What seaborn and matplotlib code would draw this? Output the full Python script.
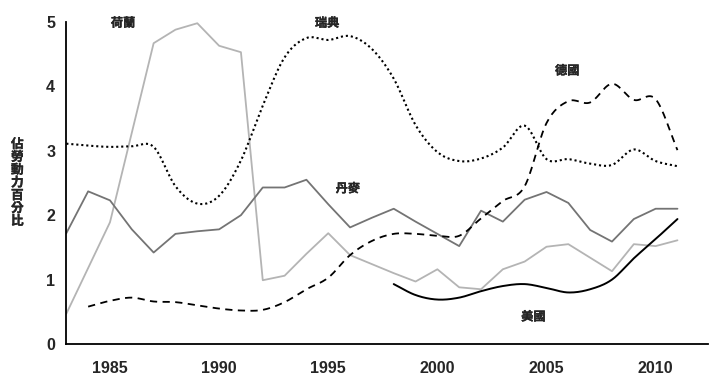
import numpy as np
import pandas as pd
import matplotlib
matplotlib.use("Agg")
import matplotlib.pyplot as plt
import matplotlib.patheffects as pe
import seaborn as sns

years = list(range(1983, 2012))
netherlands = [0.47, 1.18, 1.89, 3.28, 4.67, 4.88, 4.98, 4.63, 4.53, 0.99, 1.06, 1.4, 1.72, 1.38,
               1.24, 1.1, 0.97, 1.16, 0.88, 0.85, 1.16, 1.28, 1.51, 1.55, 1.34, 1.13, 1.55, 1.52, 1.61]
denmark = [1.72, 2.37, 2.23, 1.78, 1.42, 1.71, 1.75, 1.78, 2.0, 2.43, 2.43, 2.55, 2.17, 1.81,
           1.96, 2.1, 1.9, 1.71, 1.52, 2.07, 1.9, 2.24, 2.36, 2.19, 1.77, 1.59, 1.94, 2.1, 2.1]
sweden = [3.11, 3.08, 3.06, 3.07, 3.06, 2.45, 2.18, 2.3, 2.85, 3.7, 4.45, 4.75, 4.72, 4.78,
          4.58, 4.12, 3.4, 2.98, 2.84, 2.88, 3.05, 3.39, 2.87, 2.87, 2.8, 2.78, 3.02, 2.84, 2.76]
germany_years = list(range(1984, 2012))
germany = [0.58, 0.67, 0.72, 0.66, 0.65, 0.6, 0.55, 0.52, 0.53, 0.65, 0.85, 1.03, 1.38, 1.6,
           1.71, 1.71, 1.68, 1.68, 1.95, 2.22, 2.45, 3.43, 3.77, 3.75, 4.04, 3.79, 3.8, 3.01]
us_years = list(range(1998, 2012))
us = [0.93, 0.76, 0.69, 0.72, 0.82, 0.9, 0.93, 0.87, 0.8, 0.85, 1.0, 1.33, 1.63, 1.94]

labels = ["荷蘭", "瑞典", "德國", "丹麥", "美國"]
label_x = [1985.6, 1994.95, 2005.95, 1995.9, 2004.4]
label_y = [4.98, 4.98, 4.24, 2.41, 0.42]


def curve(x, y, n=16):
    # catmull-rom rendering of the line through the yearly points
    x = np.asarray(x, float)
    y = np.asarray(y, float)
    px = np.r_[2 * x[0] - x[1], x, 2 * x[-1] - x[-2]]
    py = np.r_[2 * y[0] - y[1], y, 2 * y[-1] - y[-2]]
    t = np.linspace(0, 1, n, endpoint=False)
    xs, ys = [], []
    for i in range(1, len(px) - 2):
        for p, out in ((px, xs), (py, ys)):
            p0, p1, p2, p3 = p[i - 1], p[i], p[i + 1], p[i + 2]
            out.extend(0.5 * (2 * p1 + (-p0 + p2) * t + (2 * p0 - 5 * p1 + 4 * p2 - p3) * t ** 2
                              + (-p0 + 3 * p1 - 3 * p2 + p3) * t ** 3))
    xs.append(x[-1])
    ys.append(y[-1])
    return xs, ys


sns.set_style("white")
plt.rcParams["font.family"] = ["Liberation Sans", "Noto Sans CJK TC"]
cjk = ["Noto Sans CJK TC", "DejaVu Sans"]
bold = [pe.withStroke(linewidth=0.2, foreground="black")]

fig, ax = plt.subplots(figsize=(7.21, 3.85), dpi=100)
fig.subplots_adjust(left=0.092, right=0.982, bottom=0.1065, top=0.943)

sns.lineplot(x=years, y=netherlands, ax=ax, color="#b4b4b4", lw=1.3, sort=False, estimator=None)
sns.lineplot(x=years, y=denmark, ax=ax, color="#747474", lw=1.3, sort=False, estimator=None)
sx, sy = curve(years, sweden)
sns.lineplot(x=sx, y=sy, ax=ax, color="black", lw=1.5, linestyle=(0, (1, 1.4)), sort=False, estimator=None)
gx, gy = curve(germany_years, germany)
sns.lineplot(x=gx, y=gy, ax=ax, color="black", lw=1.3, linestyle=(0, (4, 3)), sort=False, estimator=None)
ux, uy = curve(us_years, us)
sns.lineplot(x=ux, y=uy, ax=ax, color="black", lw=1.4, sort=False, estimator=None)

for t, x, y in zip(labels, label_x, label_y):
    ax.text(x, y, t, ha="center", va="center", fontsize=8.8, fontweight="bold",
            family=cjk, path_effects=bold)

ax.set_xlim(1983, 2012.4)
ax.set_ylim(0, 5)
ax.set_xticks([1985, 1990, 1995, 2000, 2005, 2010])
ax.set_yticks([0, 1, 2, 3, 4, 5])
ax.tick_params(axis="both", direction="out", width=1.3, length=6, labelsize=11.5, color="black")
ax.tick_params(axis="x", pad=6)
ax.tick_params(axis="y", pad=2)
for lab in ax.get_xticklabels() + ax.get_yticklabels():
    lab.set_fontweight("bold")
for s in ["top", "right"]:
    ax.spines[s].set_visible(False)
for s in ["left", "bottom"]:
    ax.spines[s].set_linewidth(1.3)
    ax.spines[s].set_color("black")

fig.text(0.024, 0.525, "\n".join("佔勞動力百分比"), ha="center", va="center", fontsize=9.2,
         fontweight="bold", linespacing=0.98, family=cjk, path_effects=bold)

fig.savefig("out.png", dpi=100)
